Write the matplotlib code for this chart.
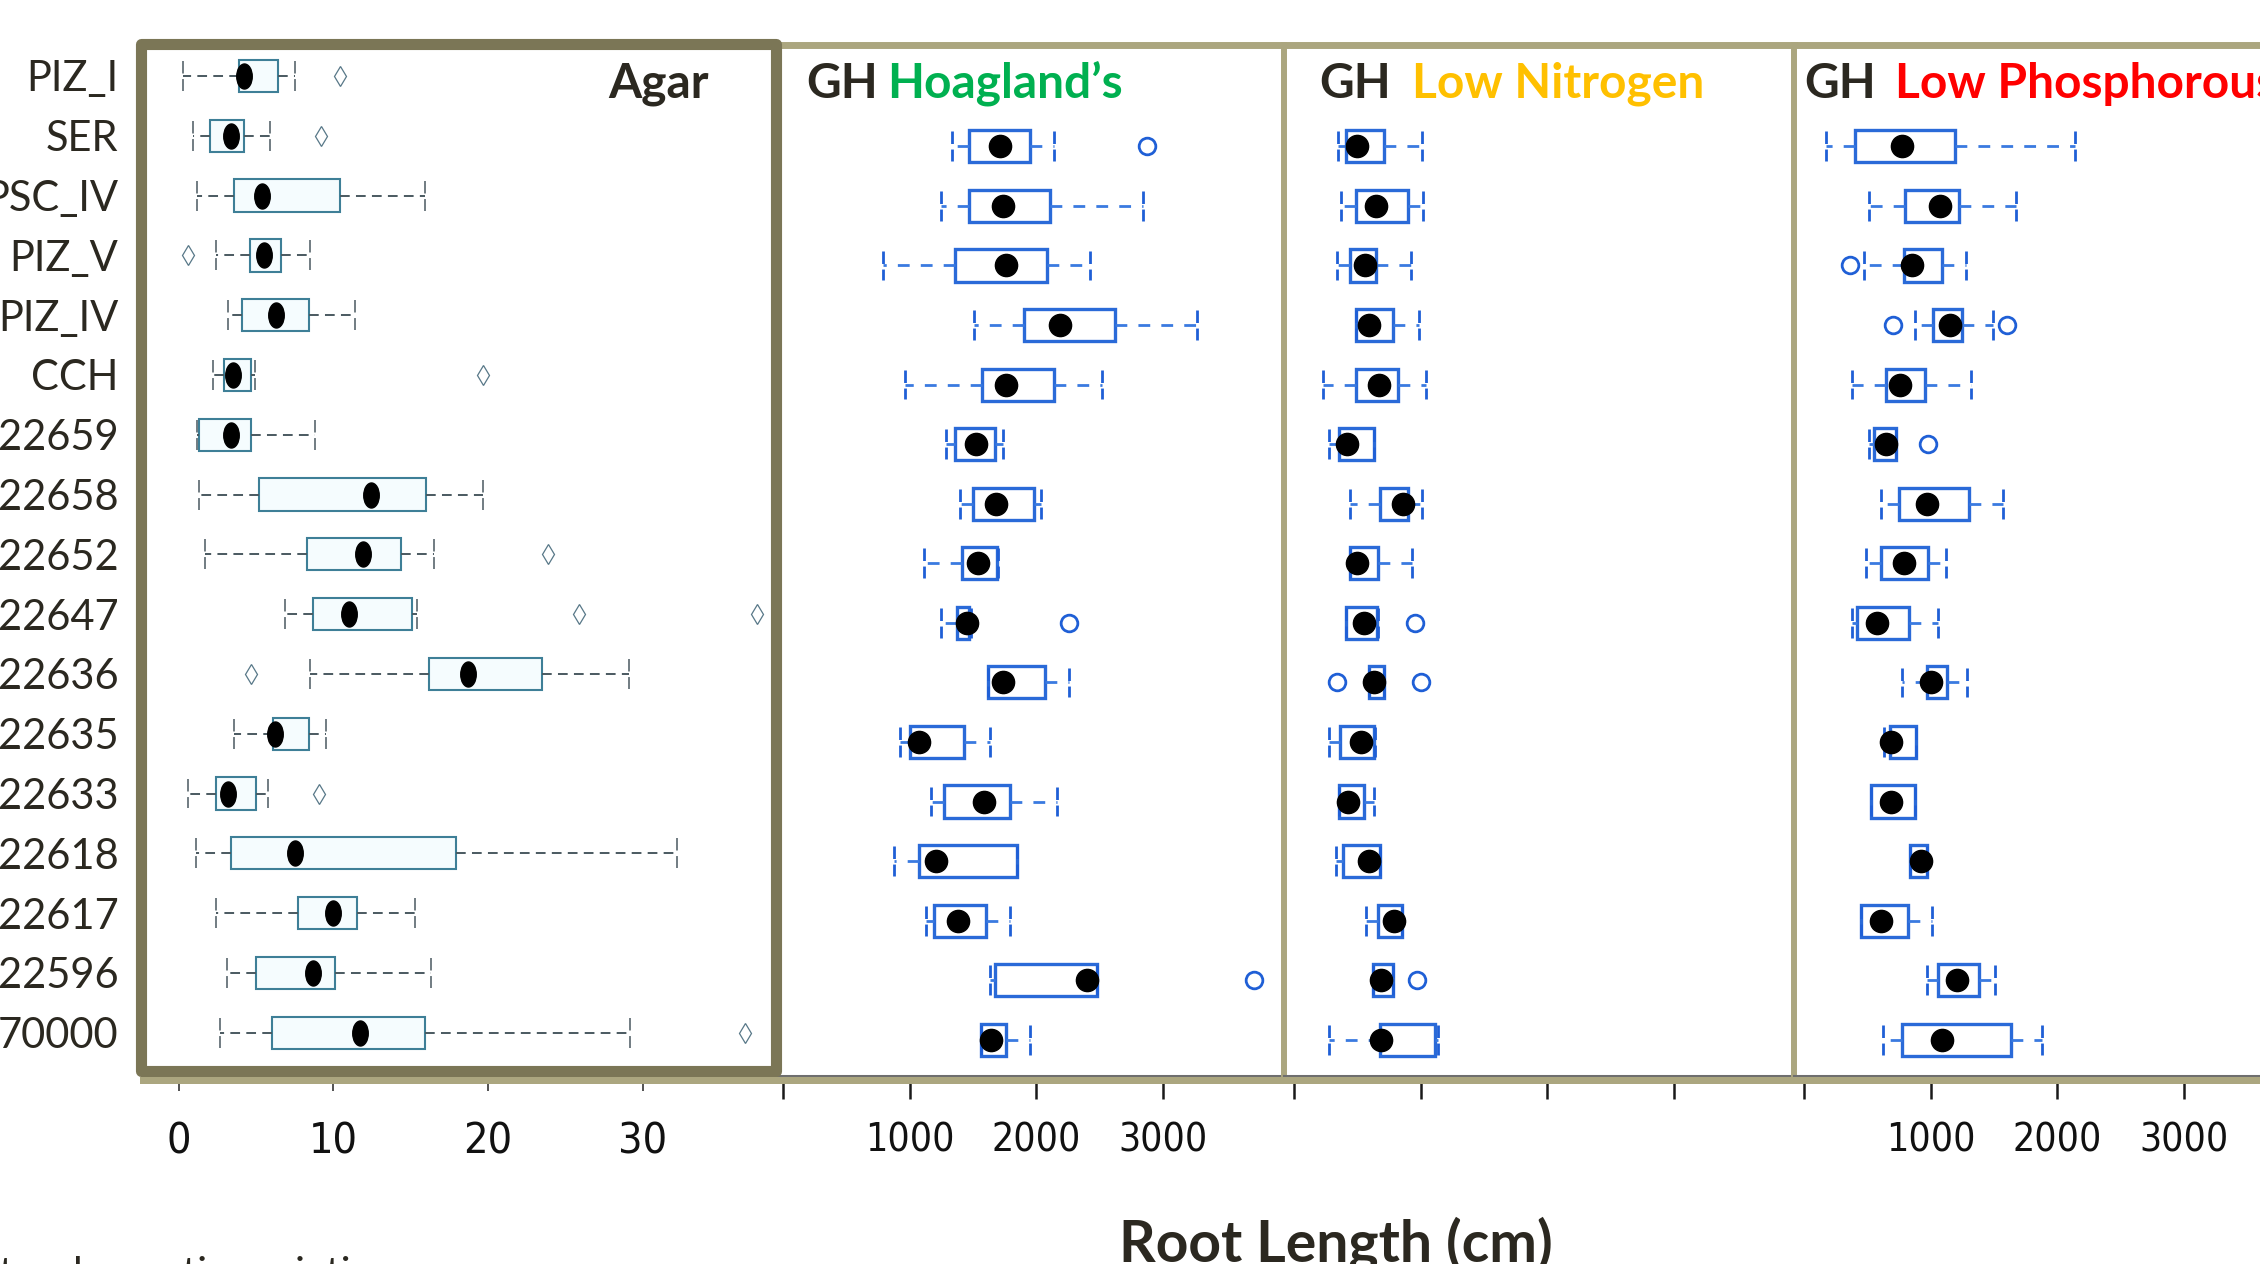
import matplotlib
matplotlib.use("Agg")
import matplotlib.pyplot as plt
import matplotlib.font_manager as fm
from matplotlib.patches import Rectangle
from matplotlib.path import Path

# --- data -------------------------------------------------------------
agar_labels = ['PIZ_I', 'SER', 'PSC_IV', 'PIZ_V', 'PIZ_IV', 'CCH', '22659', '22658',
               '22652', '22647', '22636', '22635', '22633', '22618', '22617', '22596', '70000']
agar_lo = [0.3, 0.9, 1.2, 2.4, 3.2, 2.2, 1.2, 1.3, 1.7, 6.9, 8.5, 3.6, 0.6, 1.1, 2.4, 3.1, 2.7]
agar_q1 = [3.9, 2.0, 3.6, 4.6, 4.1, 2.9, 1.3, 5.2, 8.3, 8.7, 16.2, 6.1, 2.4, 3.4, 7.7, 5.0, 6.0]
agar_mean = [4.2, 3.4, 5.4, 5.5, 6.3, 3.5, 3.4, 12.4, 11.9, 11.0, 18.7, 6.2, 3.2, 7.5, 10.0, 8.7, 11.7]
agar_q3 = [6.4, 4.2, 10.4, 6.6, 8.4, 4.7, 4.7, 16.0, 14.4, 15.1, 23.5, 8.4, 5.0, 17.9, 11.5, 10.1, 15.9]
agar_hi = [7.5, 5.9, 15.9, 8.5, 11.4, 4.9, 8.8, 19.7, 16.5, 15.4, 29.1, 9.5, 5.8, 32.2, 15.3, 16.3, 29.2]
agar_out = [[10.4], [9.2], [], [0.6], [], [19.7], [], [], [23.9], [25.9, 37.4], [4.7],
            [], [9.1], [], [], [], [36.6]]

# greenhouse rows: SER ... 70000
hoag_lo = [1330, 1250, 790, 1510, 960, 1290, 1400, 1110, 1250, 1620, 920, 1170, 880, 1130, 1630, 1560]
hoag_q1 = [1470, 1470, 1360, 1900, 1570, 1360, 1500, 1410, 1370, 1620, 1000, 1270, 1070, 1190, 1670, 1560]
hoag_mean = [1710, 1740, 1760, 2190, 1760, 1520, 1680, 1540, 1450, 1740, 1070, 1590, 1210, 1380, 2400, 1640]
hoag_q3 = [1950, 2110, 2080, 2620, 2140, 1670, 1980, 1690, 1470, 2070, 1430, 1790, 1850, 1600, 2480, 1760]
hoag_hi = [2140, 2840, 2420, 3270, 2520, 1740, 2040, 1700, 1480, 2260, 1630, 2160, 1850, 1790, 2480, 1950]
hoag_out = [[2870], [], [], [], [], [], [], [], [2260], [], [], [], [], [], [3720], []]

lown_lo = [350, 370, 340, 490, 230, 280, 440, 440, 410, 590, 280, 355, 330, 570, 620, 280]
lown_q1 = [410, 490, 440, 490, 490, 355, 680, 440, 410, 590, 365, 355, 385, 665, 620, 680]
lown_mean = [500, 650, 560, 590, 670, 420, 860, 500, 550, 630, 530, 430, 590, 790, 690, 690]
lown_q3 = [710, 900, 650, 780, 820, 630, 900, 665, 655, 710, 635, 550, 680, 850, 780, 1110]
lown_hi = [1010, 1020, 920, 990, 1045, 630, 1010, 930, 660, 710, 640, 630, 680, 850, 780, 1140]
lown_out = [[], [], [], [], [], [], [], [], [955], [340, 1000], [], [], [], [], [970], []]

lowp_lo = [170, 510, 470, 880, 380, 510, 610, 490, 380, 770, 630, 530, 840, 450, 970, 620]
lowp_q1 = [400, 800, 790, 1020, 650, 550, 750, 610, 420, 970, 680, 530, 840, 450, 1060, 770]
lowp_mean = [770, 1070, 850, 1150, 760, 650, 970, 790, 580, 1000, 690, 690, 920, 610, 1210, 1090]
lowp_q3 = [1190, 1220, 1090, 1250, 955, 730, 1300, 975, 830, 1130, 885, 875, 970, 820, 1380, 1630]
lowp_hi = [2140, 1670, 1280, 1490, 1320, 730, 1570, 1120, 1060, 1290, 885, 875, 970, 1010, 1510, 1880]
lowp_out = [[], [], [360], [700, 1600], [], [980], [], [], [], [], [], [], [], [], [], []]

agar_ticks = [0, 10, 20, 30]
gh_ticks = [0, 1000, 2000, 3000]
gh_ticklabels = ['', '1000', '2000', '3000']

# --- style ------------------------------------------------------------
entries = fm.fontManager.ttflist
names = {f.name for f in entries}
if 'Liberation Sans Narrow' in names:
    num_font = dict(family='Liberation Sans Narrow')
elif any(f.name == 'DejaVu Sans' and 'ondensed' in str(f.stretch) for f in entries):
    num_font = dict(family='DejaVu Sans', stretch='condensed')
else:
    num_font = dict(family='Lato')

plt.rcParams['font.family'] = ['Lato', 'DejaVu Sans']
plt.rcParams['lines.scale_dashes'] = False

dark_text = '#2b2820'
olive_dark = '#7b7656'
olive_light = '#aba67f'

W, H = 2260, 1264


def fx(x):
    return x / W


def fy(y):
    return 1 - y / H


def make_stats(lo, q1, mean, q3, hi, out):
    return [dict(whislo=a, q1=b, med=c, mean=c, q3=d, whishi=e, fliers=f)
            for a, b, c, d, e, f in zip(lo, q1, mean, q3, hi, out)]


fig = plt.figure(figsize=(W / 100, H / 100), dpi=100)
fig.patch.set_facecolor('white')

# --- Agar panel -------------------------------------------------------
ax_a = fig.add_axes([fx(140.5), fy(1071), (776.5 - 140.5) / W, (1071 - 43.5) / H], zorder=2)
circ = Path.unit_circle()
tall_dot = Path(circ.vertices * [0.62, 1.0], circ.codes)
ax_a.bxp(make_stats(agar_lo, agar_q1, agar_mean, agar_q3, agar_hi, agar_out),
         positions=range(len(agar_labels)), widths=0.54, capwidths=0.5,
         orientation='horizontal', showmeans=True, patch_artist=True, manage_ticks=False,
         boxprops=dict(facecolor='#f5fcfe', edgecolor='#3e7f97', linewidth=1.5),
         whiskerprops=dict(color='#4a5960', linewidth=1.4, linestyle=(0, (7, 4.5))),
         capprops=dict(color='#4a5960', linewidth=1.1, linestyle=(0, (9, 4))),
         medianprops=dict(visible=False),
         meanprops=dict(marker=tall_dot, markerfacecolor='black', markeredgecolor='black',
                        markersize=18),
         flierprops=dict(marker='d', markerfacecolor='white', markeredgecolor='#587888',
                         markersize=10, markeredgewidth=0.9))
ax_a.set_xlim(-2.47, 38.64)
ax_a.set_ylim(16.64, -0.543)
ax_a.set_yticks(range(len(agar_labels)))
ax_a.set_yticklabels(agar_labels, fontsize=30, color=dark_text)
ax_a.tick_params(axis='y', length=0, pad=16)
ax_a.set_xticks(agar_ticks)
ax_a.set_xticklabels([str(t) for t in agar_ticks], fontsize=31, color='#111111', **num_font)
ax_a.tick_params(axis='x', direction='out', length=14.4, width=1.2, color='#333333', pad=21)
ax_a.xaxis.set_zorder(2)
for s in ax_a.spines.values():
    s.set_visible(False)
ax_a.add_patch(Rectangle((0, 0), 1, 1, transform=ax_a.transAxes, fill=False,
                         edgecolor=olive_dark, linewidth=8, joinstyle='round',
                         clip_on=False, zorder=10))

# --- greenhouse panels ------------------------------------------------
gh_data = [
    (783, hoag_lo, hoag_q1, hoag_mean, hoag_q3, hoag_hi, hoag_out, True),
    (1294, lown_lo, lown_q1, lown_mean, lown_q3, lown_hi, lown_out, False),
    (1804, lowp_lo, lowp_q1, lowp_mean, lowp_q3, lowp_hi, lowp_out, True),
]
px_per_unit = 0.1267
xmin, xmax = -78, 3945
gh_blue = '#2a6ad8'
for i, (x0, lo, q1, mean, q3, hi, out, show_labels) in enumerate(gh_data):
    left = x0 + xmin * px_per_unit
    width = (xmax - xmin) * px_per_unit
    ax = fig.add_axes([fx(left), fy(1075.5), width / W, (1075.5 - 44.5) / H], zorder=1)
    ax.bxp(make_stats(lo, q1, mean, q3, hi, out), positions=range(len(lo)),
           widths=0.54, capwidths=0.5, orientation='horizontal', showmeans=True,
           patch_artist=True, manage_ticks=False,
           boxprops=dict(facecolor='white', edgecolor=gh_blue, linewidth=2.4),
           whiskerprops=dict(color='#3a7ae0', linewidth=2.0, linestyle=(0, (8.5, 8))),
           capprops=dict(color='#1f5fd6', linewidth=2.0, linestyle=(0, (9, 4))),
           medianprops=dict(visible=False),
           meanprops=dict(marker='o', markerfacecolor='black', markeredgecolor='black',
                          markersize=16),
           flierprops=dict(marker='o', markerfacecolor='none', markeredgecolor='#1f5fd6',
                           markersize=12, markeredgewidth=2))
    ax.set_xlim(xmin, xmax)
    ax.set_ylim(15.6, -1.71)
    ax.set_yticks([])
    ax.set_xticks(gh_ticks)
    ax.set_xticklabels(gh_ticklabels if show_labels else [''] * 4,
                       fontsize=28, color='#111111', **num_font)
    ax.tick_params(axis='x', direction='out', length=16.2, width=1.8, color='#1a1a1a', pad=17)
    ax.spines['top'].set_color(olive_light)
    ax.spines['top'].set_linewidth(5)
    ax.spines['bottom'].set_color('#6e6e6e')
    ax.spines['bottom'].set_linewidth(2.2)
    ax.spines['right'].set_visible(False)
    if i == 0:
        ax.spines['left'].set_visible(False)
    else:
        ax.spines['left'].set_color(olive_light)
        ax.spines['left'].set_linewidth(4.3)

# light olive band under the panels
fig.patches.append(Rectangle((fx(140), fy(1084)), (W - 140) / W, 7 / H,
                             transform=fig.transFigure, facecolor=olive_light,
                             edgecolor='none', zorder=5))

# --- titles -----------------------------------------------------------
title_kw = dict(va='baseline', fontsize=34.5, fontweight='bold', zorder=12)
fig.text(fx(709), fy(98), 'Agar', ha='right', color=dark_text, **title_kw)
fig.text(fx(806), fy(98), 'GH', ha='left', color=dark_text, **title_kw)
fig.text(fx(887), fy(98), 'Hoagland’s', ha='left', color='#00b050', **title_kw)
fig.text(fx(1319), fy(98), 'GH', ha='left', color=dark_text, **title_kw)
fig.text(fx(1412), fy(98), 'Low Nitrogen', ha='left', color='#ffc000', **title_kw)
fig.text(fx(1804), fy(98), 'GH', ha='left', color=dark_text, **title_kw)
fig.text(fx(1895), fy(98), 'Low Phosphorous', ha='left', color='#ff0000', **title_kw)

fig.text(fx(1336), fy(1261), 'Root Length (cm)', ha='center', va='baseline',
         fontsize=41, fontweight='bold', color=dark_text)
fig.text(fx(-45), fy(1287), 'natural genetic variation', ha='left', va='baseline',
         fontsize=30, color=dark_text)

fig.savefig('out.png', dpi=100)
